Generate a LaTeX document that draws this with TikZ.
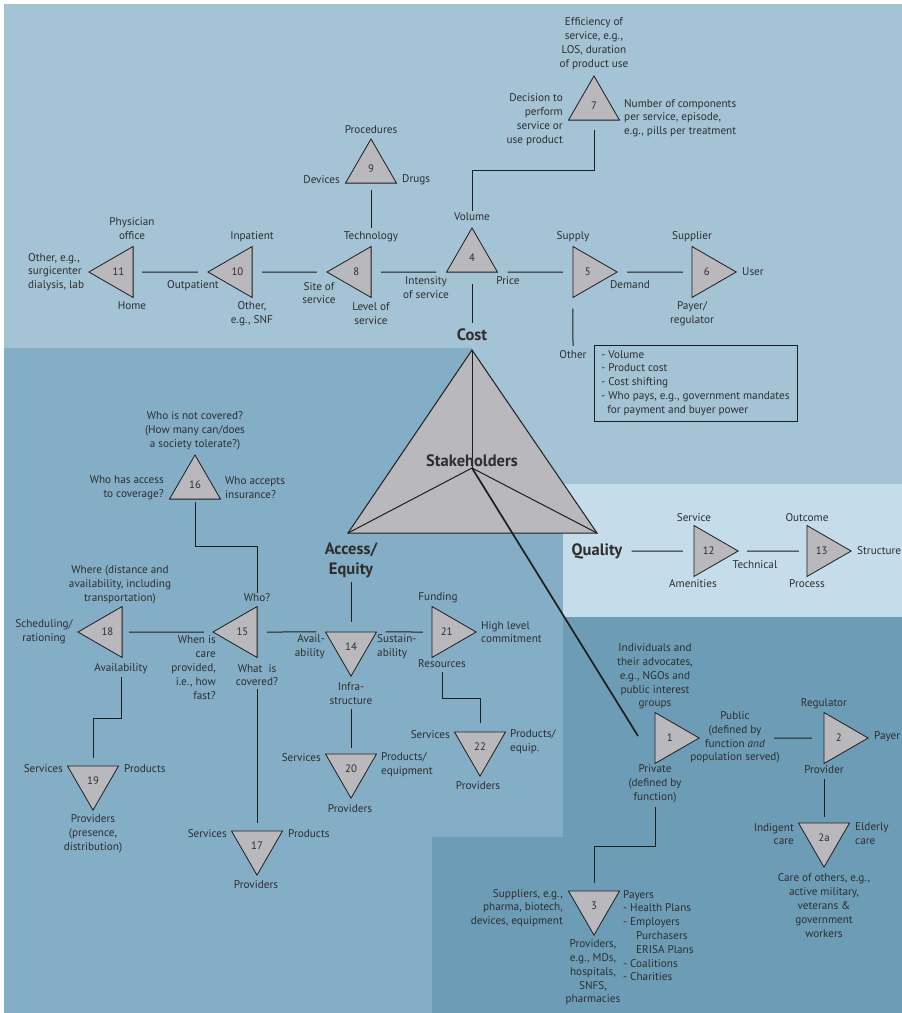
\documentclass[tikz,border=0pt]{standalone}
\usepackage{fontspec}
\setmainfont{PT Sans}
\usetikzlibrary{shapes.geometric}

\definecolor{costbg}{HTML}{A4C3D5}
\definecolor{accessbg}{HTML}{84AEC6}
\definecolor{qualitybg}{HTML}{C5DDEA}
\definecolor{stakebg}{HTML}{6D9DB6}
\definecolor{trifill}{HTML}{B9B9BD}
\definecolor{edge}{HTML}{1E1E1E}
\definecolor{ink}{HTML}{2E2E2E}

\newcommand\lblfont{\fontsize{11.2}{13.8}\selectfont}
\newcommand\numfont{\fontsize{10.8}{12}\selectfont}
\newcommand\headfont{\fontsize{16.5}{20}\selectfont\bfseries}

\begin{document}
\begin{tikzpicture}[x=1pt,y=-1pt,
  lbl/.style={font=\lblfont, text=ink, inner sep=0pt, align=center},
  lblL/.style={lbl, align=left, anchor=west},
  lblR/.style={lbl, align=right, anchor=east},
  head/.style={font=\headfont, text=ink, inner sep=0pt, align=center},
  tri/.style={regular polygon, regular polygon sides=3, minimum size=58.9pt,
    inner sep=0pt, outer sep=0pt, draw=edge, fill=trifill, line width=0.8pt,
    font=\numfont, text=ink},
  tup/.style={tri},
  tdown/.style={tri, shape border rotate=180},
  tleft/.style={tri, shape border rotate=90},
  tright/.style={tri, shape border rotate=-90},
  conn/.style={draw=edge, line width=1pt},
]
\useasboundingbox (0,0) rectangle (902,1013);

% ---- background panels ----
\fill[white] (0,0) rectangle (902,1013);
\fill[costbg] (4,4) rectangle (902,484);
\fill[accessbg] (4,348) -- (472,348) -- (472,484) -- (563,484) -- (563,837)
  -- (432,837) -- (432,1013) -- (4,1013) -- cycle;
\fill[qualitybg] (563,484) rectangle (902,617);
\fill[stakebg] (563,617) -- (902,617) -- (902,1013) -- (432,1013) -- (432,837)
  -- (563,837) -- cycle;

% ---- central stakeholder triangle ----
\coordinate (Sa) at (472,350);
\coordinate (Sl) at (348,533);
\coordinate (Sr) at (597,533);
\coordinate (Sc) at (472,468);
\filldraw[fill=trifill, draw=edge, line width=1pt] (Sa) -- (Sr) -- (Sl) -- cycle;
\draw[conn] (Sc) -- (Sa);
\draw[conn] (Sc) -- (Sl);
\draw[conn] (Sc) -- (Sr);
\node[head] (Lstake) at (472,461) {Stakeholders};
\node[head] (Lcost) at (472,335) {Cost};
\node[head] (Laccess) at (351,560) {Access/\\Equity};
\node[head] (Lquality) at (597,551) {Quality};

% ---- cost branch ----
\node[tup] (t9) at (371,168.4) {9};
\node[tleft] (t11) at (118.4,272) {11};
\node[tleft] (t10) at (237.4,272) {10};
\node[tleft] (t8) at (356.4,272) {8};
\node[tup] (t4) at (472,257.4) {4};
\node[tright] (t5) at (587.7,272) {5};
\node[tright] (t6) at (706.7,272) {6};
\node[tup] (t7) at (594,105.4) {7};

\node[lbl] (L9top) at (371,130) {Procedures};
\node[lblR] (L9l) at (340,180) {Devices};
\node[lblL] (L9r) at (402,180) {Drugs};
\node[lbl] (Ltech) at (371,237) {Technology};

\node[lbl] (L11top) at (132,228.5) {Physician\\office};
\node[lbl] (L11bot) at (132,306) {Home};
\node[lblL] (L11l) at (28,272) {Other, e.g.,\\surgicenter\\dialysis, lab};

\node[lbl] (L10top) at (252,237) {Inpatient};
\node[lbl] (L10l) at (193,286) {Outpatient};
\node[lbl] (L10bot) at (252,313.5) {Other,\\e.g., SNF};

\node[lbl] (L8l) at (319,293) {Site of\\service};
\node[lbl] (L8bot) at (371,313.5) {Level of\\service};
\node[lbl] (Lint) at (426,287.5) {Intensity\\of service};

\node[lbl] (Lvol) at (472,217) {Volume};
\node[lbl] (Lprice) at (508,281) {Price};

\node[lbl] (Lsupply) at (573,237) {Supply};
\node[lbl] (Ldemand) at (630,285) {Demand};
\node[lbl] (Lother) at (573,355) {Other};

\node[lbl] (Lsupplier) at (692,237) {Supplier};
\node[lblL] (Luser) at (742,272) {User};
\node[lbl] (Lpayreg) at (692,313.5) {Payer/\\regulator};

\node[lbl] (L7top) at (594,43.5) {Efficiency of\\service, e.g.,\\LOS, duration\\of product use};
\node[lblR] (L7l) at (563,119.5) {Decision to\\perform\\service or\\use product};
\node[lblL] (L7r) at (624,118) {Number of components\\per service, episode,\\e.g., pills per treatment};

\node[lbl, draw=edge, line width=0.9pt, align=left, minimum width=203pt,
  inner xsep=0pt, inner ysep=0pt, minimum height=76pt] (Lbox) at (695.5,383)
  {- Volume\\- Product cost\\- Cost shifting\\- Who pays, e.g., government mandates\\\hspace*{6pt}for payment and buyer power};

\coordinate (k7) at (594,170);
\draw[conn, shorten <=7pt, shorten >=4pt] (t9.-90) -- (Ltech.north);
\draw[conn, shorten <=9pt, shorten >=10pt] (t11.0) -- (t10.180);
\draw[conn, shorten <=10pt, shorten >=10pt] (t10.0) -- (t8.180);
\draw[conn, shorten <=10pt, shorten >=10pt] (t8.0) -- (t4.210);
\draw[conn, shorten <=10pt, shorten >=10pt] (t4.330) -- (t5.180);
\draw[conn, shorten <=10pt, shorten >=9pt] (t5.0) -- (t6.180);
\draw[conn, shorten <=2pt, shorten >=10pt] (Lvol.north) |- (k7) -- (t7.-90);
\draw[conn, shorten <=12pt, shorten >=6pt] (t4.-90) -- (Lcost.north);
\draw[conn, shorten <=11pt, shorten >=5pt] (t5.240) -- (Lother.north);

% ---- access / equity branch ----
\node[tdown] (t14) at (351,646.7) {14};
\node[tleft] (t15) at (242.4,632) {15};
\node[tleft] (t18) at (107.4,632) {18};
\node[tup] (t16) at (195,484.4) {16};
\node[tdown] (t19) at (93,780.7) {19};
\node[tdown] (t17) at (257,845.7) {17};
\node[tdown] (t20) at (351,768.7) {20};
\node[tright] (t21) at (446.7,632) {21};
\node[tdown] (t22) at (480,746.7) {22};

\node[lbl] (L16top) at (195,431) {Who is not covered?\\(How many can/does\\a society tolerate?)};
\node[lblR] (L16l) at (164,487.5) {Who has access\\to coverage?};
\node[lblL] (L16r) at (225,487.5) {Who accepts\\insurance?};

\node[lbl] (Lwho) at (257,598) {Who?};
\node[lblR] (Lwhen) at (216,667.5) {When is\\care\\provided,\\i.e., how\\fast?};
\node[lbl] (Lwhat) at (257,675) {What \ is\\covered?};

\node[lbl] (L18top) at (120,584.5) {Where (distance and\\availability, including\\transportation)};
\node[lbl] (L18l) at (44,632) {Scheduling/\\rationing};
\node[lbl] (Lavail) at (121,669) {Availability};

\node[lblR] (L19l) at (63,769) {Services};
\node[lblL] (L19r) at (124,769) {Products};
\node[lbl] (L19bot) at (93,833.5) {Providers\\(presence,\\distribution)};

\node[lblR] (L17l) at (227,834) {Services};
\node[lblL] (L17r) at (288,834) {Products};
\node[lbl] (L17bot) at (256,885) {Providers};

\node[lblR] (L14l) at (325,647) {Avail-\\ability};
\node[lblL] (L14r) at (377,647) {Sustain-\\ability};
\node[lbl] (Linfra) at (351,694) {Infra-\\structure};

\node[lblR] (L20l) at (321,758) {Services};
\node[lblL] (L20r) at (381,765) {Products/\\equipment};
\node[lbl] (L20bot) at (350,809) {Providers};

\node[lbl] (L21top) at (438,598) {Funding};
\node[lblL] (L21r) at (481,632) {High level\\commitment};
\node[lbl] (Lres) at (442,664) {Resources};

\node[lblR] (L22l) at (450,735) {Services};
\node[lblL] (L22r) at (510,742) {Products/\\equip.};
\node[lbl] (L22bot) at (478,786) {Providers};

\coordinate (k16) at (195,546);
\coordinate (k19) at (93,718);
\coordinate (k22) at (480,698);
\draw[conn, shorten <=4pt, shorten >=10pt] (Laccess.south) -- (t14.90);
\draw[conn, shorten <=10pt, shorten >=9pt] (t15.0) -- (t14.150);
\draw[conn, shorten <=9pt, shorten >=9pt] (t14.30) -- (t21.180);
\draw[conn, shorten <=7pt, shorten >=9pt] (t18.0) -- (t15.180);
\draw[conn, shorten <=1pt, shorten >=3pt] (Lwho.north) |- (k16) -- (t16.-90);
\draw[conn, shorten <=3pt, shorten >=8pt] (Lwhat.south) -- (t17.90);
\draw[conn, shorten <=3pt, shorten >=8pt] (Lavail.south) |- (k19) -- (t19.90);
\draw[conn, shorten <=4pt, shorten >=6pt] (Linfra.south) -- (t20.90);
\draw[conn, shorten <=4pt, shorten >=9pt] (Lres.south) |- (k22) -- (t22.90);

% ---- quality branch ----
\node[tright] (t12) at (708.7,551) {12};
\node[tright] (t13) at (821.7,551) {13};
\node[lbl] (L12top) at (694,518) {Service};
\node[lbl] (L12bot) at (693,584) {Amenities};
\node[lbl] (L12r) at (755,565) {Technical};
\node[lbl] (L13top) at (807,518) {Outcome};
\node[lbl] (L13bot) at (807,584) {Process};
\node[lblL] (L13r) at (857,551) {Structure};
\draw[conn, shorten <=9pt, shorten >=11pt] (Lquality.east) -- (t12.180);
\draw[conn, shorten <=9pt, shorten >=8pt] (t12.0) -- (t13.180);

% ---- stakeholder branch ----
\node[tright] (t1) at (669.7,738) {1};
\node[tright] (t2) at (838.7,738) {2};
\node[tdown] (t2a) at (824,837.7) {2a};
\node[tdown] (t3) at (594,905.7) {3};

\node[lbl] (L1top) at (655,676.5) {Individuals and\\their advocates,\\e.g., NGOs and\\public interest\\groups};
\node[lbl] (L1r) at (735,737.5) {Public\\(defined by\\function \textit{and}\\population served)};
\node[lbl] (L1bot) at (655,784) {Private\\(defined by\\function)};
\node[lbl] (L2top) at (824,704) {Regulator};
\node[lbl] (L2bot) at (824,770) {Provider};
\node[lblL] (L2r) at (874,737) {Payer};
\node[lblR] (L2al) at (794,834) {Indigent\\care};
\node[lblL] (L2ar) at (855,834) {Elderly\\care};
\node[lbl] (L2abot) at (824,905.5) {Care of others, e.g.,\\active military,\\veterans \&\\government\\workers};
\node[lblR] (L3l) at (563,908) {Suppliers, e.g.,\\pharma, biotech,\\devices, equipment};
\node[lblL] (L3r) at (623,935.5) {Payers\\- Health Plans\\- Employers\\\hspace*{13pt}Purchasers\\\hspace*{13pt}ERISA Plans\\- Coalitions\\- Charities};
\node[lbl] (L3bot) at (593,972.5) {Providers,\\e.g., MDs,\\hospitals,\\SNFS,\\pharmacies};

\coordinate (s1end) at (638,736);
\coordinate (k3) at (594,846);
\draw[edge, line width=1.7pt] (Sc) -- (s1end);
\draw[conn, shorten <=75pt, shorten >=12pt] (t1.0) -- (t2.180);
\draw[conn, shorten <=5pt, shorten >=6pt] (L2bot.south) -- (t2a.90);
\draw[conn, shorten <=4pt, shorten >=8pt] (L1bot.south) |- (k3) -- (t3.90);
\end{tikzpicture}
\end{document}
